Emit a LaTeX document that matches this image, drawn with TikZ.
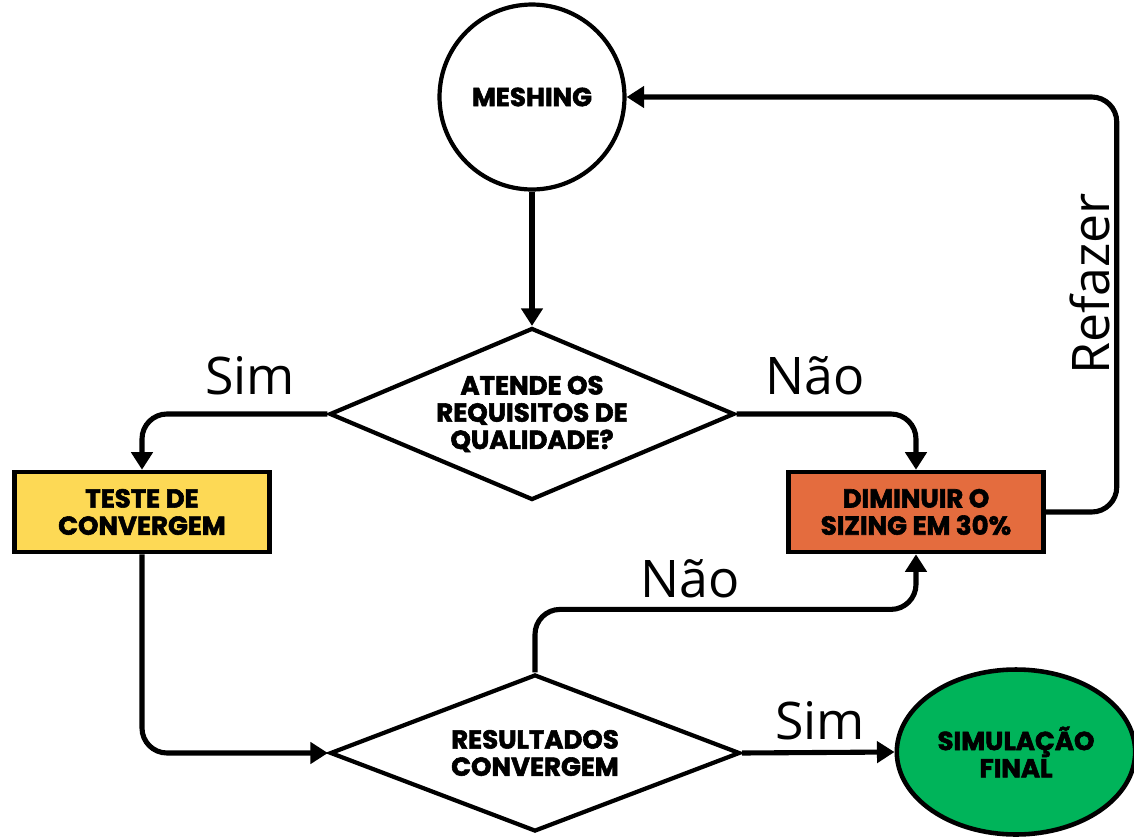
\documentclass[tikz,border=0pt]{standalone}
\usepackage{fontspec}
\setmainfont{Poppins}
\newfontfamily\labelfont{Open Sans}
\newfontfamily\caixafont{Poppins}[UprightFont=* Bold, FakeBold=2.2]
\usepackage{tikz}
\usetikzlibrary{arrows.meta}
\usetikzlibrary{shapes.geometric}
\usetikzlibrary{calc}
\definecolor{caixaamarela}{HTML}{FDD955}
\definecolor{caixalaranja}{HTML}{E46C3E}
\definecolor{elipseverde}{HTML}{00B45A}
\tikzset{>={Triangle[length=10pt,width=12pt]}}
\tikzstyle{txt} = [font=\caixafont\fontsize{14.8}{15.5}\selectfont, align=center, text=black]
\tikzstyle{caixa} = [rectangle, draw=black, line width=2.6pt, txt, minimum width=5.1cm, minimum height=1.6cm]
\tikzstyle{decisao} = [diamond, draw=black, line width=2.4pt, txt, inner sep=0pt, shape aspect=2.35]
\tikzstyle{seta} = [->, line width=2.9pt, draw=black, rounded corners=0.5cm]
\tikzstyle{rotulo} = [font=\labelfont\fontsize{29.5}{32}\selectfont, text=black]

\begin{document}
\begin{tikzpicture}[x=0.02cm, y=-0.02cm]
\useasboundingbox (0,0) rectangle (1134,839);
\node [circle, draw=black, line width=2.4pt, txt, minimum size=3.7cm, fill=white] (M) at (532, 97) {MESHING};
\node [decisao, minimum width=8.1cm, minimum height=3.44cm] (Q) at (532, 414) {ATENDE OS\\REQUISITOS DE\\QUALIDADE?};
\node [caixa, fill=caixaamarela] (T) at (142, 512) {TESTE DE\\CONVERGEM};
\node [caixa, fill=caixalaranja] (D) at (916, 512) {DIMINUIR O\\SIZING EM 30\%};
\node [decisao, minimum width=8.2cm, minimum height=3.14cm] (R) at (535, 753) {RESULTADOS\\CONVERGEM};
\node [ellipse, draw=black, line width=2.6pt, txt, fill=elipseverde, minimum width=4.66cm, minimum height=3.3cm] (F) at (1016, 752) {SIMULAÇÃO\\FINAL};
\draw [seta] (M) to (Q);
\draw [seta] (Q.west) -| (T.north);
\draw [seta] (Q.east) -| (D.north);
\draw [seta] (D.east) -- ++(71,0) |- (M.east);
\draw [seta] (T.south) |- (R.west);
\draw [seta] (R.north) -- ++(0,-63) -| (D.south);
\draw [seta] (R.east) to (F.west);
\node [rotulo] (simA) at (250, 376) {Sim};
\node [rotulo] (naoA) at (815, 376) {Não};
\node [rotulo] (naoB) at (690, 579) {Não};
\node [rotulo] (simB) at (820, 721) {Sim};
\node [rotulo, rotate=90] (refazer) at (1090, 284) {Refazer};
\end{tikzpicture}
\end{document}
